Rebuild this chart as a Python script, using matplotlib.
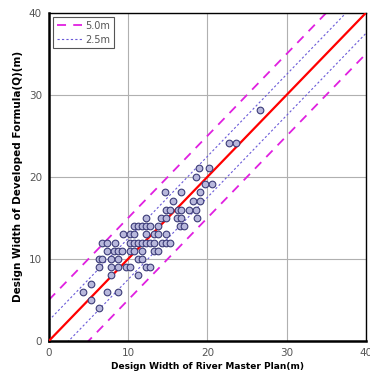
import matplotlib
matplotlib.use('Agg')
import matplotlib.pyplot as plt
import numpy as np

# --- data ---
# river master plan width (x) vs developed formula width (y)
MASTER_PLAN = [26.6, 22.7, 23.6,
               19.0, 20.2, 18.6, 19.7, 20.6,
               14.7, 16.7, 19.1, 15.6, 18.2, 19.1,
               14.8, 15.3, 16.3, 16.7, 17.7, 18.6,
               12.2, 14.2, 14.75, 16.2, 16.7, 18.7,
               10.7, 11.25, 11.75, 12.25, 12.75, 13.75, 16.6, 17.1,
               9.3, 10.25, 10.7, 12.25, 13.25, 13.75, 14.8,
               6.75, 7.3, 8.3, 10.2, 10.7, 11.25, 11.75, 12.25, 12.8, 13.25, 14.25, 14.75, 15.25,
               7.3, 8.25, 8.75, 9.25, 10.25, 10.7, 11.7, 13.25, 13.75,
               6.3, 6.7, 7.8, 8.75, 11.25, 11.75,
               6.3, 7.8, 8.75, 9.75, 10.25, 12.25, 12.75,
               7.8, 11.25,
               5.3,
               4.3, 7.3, 8.75,
               5.3,
               6.3]
DEVELOPED = [28.1, 24.1, 24.1,
             21.1, 21.1, 20.0, 19.1, 19.1,
             18.1, 18.1, 18.1, 17.1, 17.1, 17.1,
             16.0, 16.0, 16.0, 16.0, 16.0, 16.0,
             15.0, 15.0, 15.0, 15.0, 15.0, 15.0,
             14.0, 14.0, 14.0, 14.0, 14.0, 14.0, 14.0, 14.0,
             13.0, 13.0, 13.0, 13.0, 13.0, 13.0, 13.0,
             12.0, 12.0, 12.0, 12.0, 12.0, 12.0, 12.0, 12.0, 12.0, 12.0, 12.0, 12.0, 12.0,
             11.0, 11.0, 11.0, 11.0, 11.0, 11.0, 11.0, 11.0, 11.0,
             10.0, 10.0, 10.0, 10.0, 10.0, 10.0,
             9.0, 9.0, 9.0, 9.0, 9.0, 9.0, 9.0,
             8.05, 8.05,
             7.0,
             6.0, 6.0, 6.0,
             5.0,
             4.0]

BAND_WIDE = 5.0
BAND_NARROW = 2.5
AXIS_MAX = 40
TICKS = [0, 10, 20, 30, 40]

fig = plt.figure(figsize=(3.7, 3.78), dpi=100)
ax = fig.add_axes([0.132, 0.098, 0.857, 0.868])

line = np.array([0, AXIS_MAX])
ax.plot(line, line, color='#ff0000', lw=1.6, zorder=3)
ax.plot(line, line + BAND_WIDE, color='#e020e0', lw=1.3, ls=(0, (5, 4)), label='5.0m', zorder=2)
ax.plot(line, line - BAND_WIDE, color='#e020e0', lw=1.3, ls=(0, (5, 4)), zorder=2)
ax.plot(line, line + BAND_NARROW, color='#6a5ad8', lw=0.8, ls=(0, (2, 2)), label='2.5m', zorder=2)
ax.plot(line, line - BAND_NARROW, color='#6a5ad8', lw=0.8, ls=(0, (2, 2)), zorder=2)

ax.scatter(MASTER_PLAN, DEVELOPED, s=23, facecolor='#b8b8dc', edgecolor='#3c3c78',
           linewidth=0.8, zorder=4)

ax.set_xlim(0, AXIS_MAX)
ax.set_ylim(0, AXIS_MAX)
ax.set_xticks(TICKS)
ax.set_yticks(TICKS)
ax.grid(True, color='#b0b0b0', lw=0.8)
ax.set_axisbelow(True)
ax.tick_params(length=0, labelsize=7.5, labelcolor='#555555', pad=5)
for side in ['left', 'bottom']:
    ax.spines[side].set_linewidth(1.8)
for side in ['top', 'right']:
    ax.spines[side].set_linewidth(1.0)

ax.set_xlabel('Design Width of River Master Plan(m)', fontsize=6.5, fontweight='bold', labelpad=3)
ax.set_ylabel('Design Width of Developed Formula(Q)(m)', fontsize=7.5, fontweight='bold', labelpad=4)

leg = ax.legend(loc='upper left', fontsize=7, fancybox=False, edgecolor='#555555',
                framealpha=1, handlelength=2.6, borderpad=0.4, labelspacing=0.4,
                handletextpad=0.3, borderaxespad=0.4)
leg.get_frame().set_linewidth(0.8)
for t in leg.get_texts():
    t.set_color('#555555')

fig.savefig('out.png', dpi=100)
